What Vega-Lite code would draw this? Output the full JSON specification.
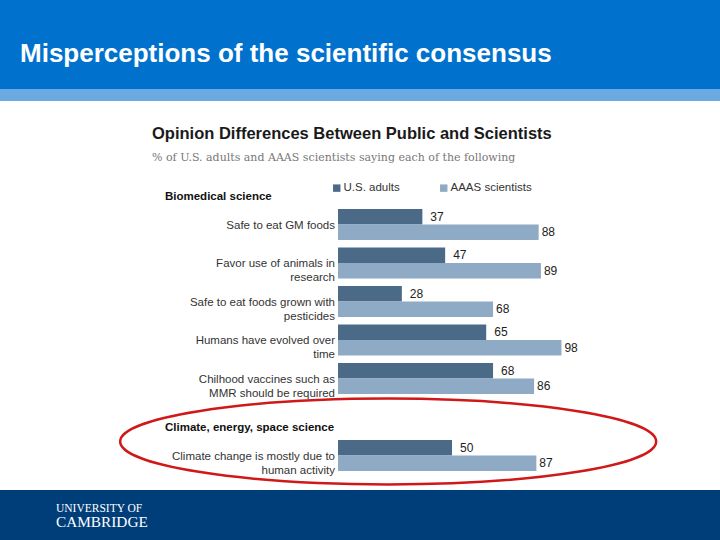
{
  "$schema": "https://vega.github.io/schema/vega-lite/v6.json",
  "padding": 0,
  "spacing": 0,
  "background": "white",
  "config": {
    "view": {"stroke": null},
    "font": "Liberation Sans"
  },
  "datasets": {
    "bars": [
      {"row": "gm", "series": "U.S. adults", "value": 37},
      {"row": "gm", "series": "AAAS scientists", "value": 88},
      {"row": "animals", "series": "U.S. adults", "value": 47},
      {"row": "animals", "series": "AAAS scientists", "value": 89},
      {"row": "pesticides", "series": "U.S. adults", "value": 28},
      {"row": "pesticides", "series": "AAAS scientists", "value": 68},
      {"row": "evolved", "series": "U.S. adults", "value": 65},
      {"row": "evolved", "series": "AAAS scientists", "value": 98},
      {"row": "vaccines", "series": "U.S. adults", "value": 68},
      {"row": "vaccines", "series": "AAAS scientists", "value": 86},
      {"row": "climate", "series": "U.S. adults", "value": 50},
      {"row": "climate", "series": "AAAS scientists", "value": 87}
    ],
    "categories": [
      {"row": "gm", "label": "Safe to eat GM foods"},
      {"row": "animals", "label": "Favor use of animals in\nresearch"},
      {"row": "pesticides", "label": "Safe to eat foods grown with\npesticides"},
      {"row": "evolved", "label": "Humans have evolved over\ntime"},
      {"row": "vaccines", "label": "Chilhood vaccines such as\nMMR should be required"},
      {"row": "climate", "label": "Climate change is mostly due to\nhuman activity"}
    ],
    "sections": [
      {"row": "bio", "label": "Biomedical science", "pos": -75.9},
      {"row": "climate_h", "label": "Climate, energy, space science", "pos": -75.9}
    ],
    "highlight": [
      {"row": "climate", "value": 22}
    ]
  },
  "vconcat": [
    {
      "width": 720,
      "height": 89,
      "data": {"values": [{"part": "header"}]},
      "mark": {"type": "rect", "color": "#0072CE"},
      "title": {
        "text": "Misperceptions of the scientific consensus",
        "anchor": "start",
        "frame": "group",
        "orient": "top",
        "offset": -67,
        "dx": 20,
        "color": "white",
        "font": "Liberation Sans",
        "fontSize": 26,
        "fontWeight": "bold"
      }
    },
    {
      "width": 720,
      "height": 12,
      "data": {"values": [{"part": "stripe"}]},
      "mark": {"type": "rect", "color": "#6AAAE0"}
    },
    {
      "width": 720,
      "height": 387,
      "title": {
        "text": "Opinion Differences Between Public and Scientists",
        "subtitle": "% of U.S. adults and AAAS scientists saying each of the following",
        "anchor": "start",
        "frame": "group",
        "orient": "top",
        "offset": -62,
        "dx": 152,
        "color": "#1a1a1a",
        "font": "Liberation Sans",
        "fontSize": 16.5,
        "fontWeight": "bold",
        "subtitleFont": "DejaVu Serif",
        "subtitleFontSize": 11,
        "subtitleColor": "#777777",
        "subtitlePadding": 10
      },
      "layer": [
        {
          "data": {"name": "bars"},
          "mark": {"type": "bar"},
          "encoding": {
            "y": {
              "field": "row",
              "type": "nominal",
              "sort": null,
              "scale": {
                "domain": ["bio", "gm", "animals", "pesticides", "evolved", "vaccines", "climate_h", "climate"],
                "range": [65.75, 373.75],
                "paddingInner": 0.195,
                "paddingOuter": 0.0975
              },
              "axis": null
            },
            "yOffset": {
              "field": "series",
              "type": "nominal",
              "scale": {"domain": ["U.S. adults", "AAAS scientists"], "paddingInner": 0, "paddingOuter": 0}
            },
            "x": {
              "field": "value",
              "type": "quantitative",
              "scale": {"domain": [-148.25, 167.54], "nice": false, "zero": false},
              "axis": null
            },
            "color": {
              "field": "series",
              "type": "nominal",
              "scale": {"domain": ["U.S. adults", "AAAS scientists"], "range": ["#4B6A88", "#8EAAC4"]},
              "legend": {
                "orient": "none",
                "legendX": 331,
                "legendY": 182,
                "direction": "horizontal",
                "title": null,
                "symbolType": "square",
                "symbolSize": 55,
                "symbolStrokeWidth": 0,
                "labelFontSize": 11.5,
                "labelFont": "Liberation Sans",
                "labelColor": "#333333",
                "columnPadding": 38,
                "labelOffset": 1
              }
            }
          }
        },
        {
          "data": {"name": "bars"},
          "transform": [{"filter": "datum.series === 'U.S. adults'"}],
          "mark": {"type": "text", "align": "left", "baseline": "middle", "dx": 8, "fontSize": 12, "color": "#222222"},
          "encoding": {
            "y": {"field": "row", "type": "nominal"},
            "yOffset": {"field": "series", "type": "nominal"},
            "x": {"field": "value", "type": "quantitative"},
            "text": {"field": "value", "type": "quantitative"}
          }
        },
        {
          "data": {"name": "bars"},
          "transform": [{"filter": "datum.series === 'AAAS scientists'"}],
          "mark": {"type": "text", "align": "left", "baseline": "middle", "dx": 3, "fontSize": 12, "color": "#222222"},
          "encoding": {
            "y": {"field": "row", "type": "nominal"},
            "yOffset": {"field": "series", "type": "nominal"},
            "x": {"field": "value", "type": "quantitative"},
            "text": {"field": "value", "type": "quantitative"}
          }
        },
        {
          "data": {"name": "categories"},
          "mark": {"type": "text", "align": "right", "baseline": "middle", "dx": -3, "dy": 1, "fontSize": 11.5, "lineHeight": 14, "lineBreak": "\n", "color": "#333333"},
          "encoding": {
            "y": {"field": "row", "type": "nominal"},
            "x": {"datum": 0, "type": "quantitative"},
            "text": {"field": "label", "type": "nominal"}
          }
        },
        {
          "data": {"name": "sections"},
          "mark": {"type": "text", "align": "left", "baseline": "middle", "dy": 11, "fontSize": 11.5, "fontWeight": "bold", "color": "#111111"},
          "encoding": {
            "y": {"field": "row", "type": "nominal"},
            "x": {"field": "pos", "type": "quantitative"},
            "text": {"field": "label", "type": "nominal"}
          }
        },
        {
          "data": {"name": "highlight"},
          "mark": {
            "type": "point",
            "shape": "M-1,0A1,0.16,0,1,1,1,0A1,0.16,0,1,1,-1,0Z",
            "size": 287296,
            "filled": false,
            "stroke": "#D01818",
            "strokeWidth": 2.5,
            "opacity": 1,
            "yOffset": -14
          },
          "encoding": {
            "y": {"field": "row", "type": "nominal"},
            "x": {"field": "value", "type": "quantitative"}
          }
        }
      ]
    },
    {
      "width": 720,
      "height": 52,
      "data": {"values": [{"part": "footer"}]},
      "mark": {"type": "rect", "color": "#003E7A"},
      "title": {
        "text": "UNIVERSITY OF",
        "subtitle": "CAMBRIDGE",
        "anchor": "start",
        "frame": "group",
        "orient": "top",
        "offset": -40,
        "dx": 56,
        "color": "white",
        "font": "Liberation Serif",
        "fontSize": 11.5,
        "fontWeight": "normal",
        "subtitleColor": "white",
        "subtitleFont": "Liberation Serif",
        "subtitleFontSize": 15.3,
        "subtitlePadding": 0
      }
    }
  ]
}
